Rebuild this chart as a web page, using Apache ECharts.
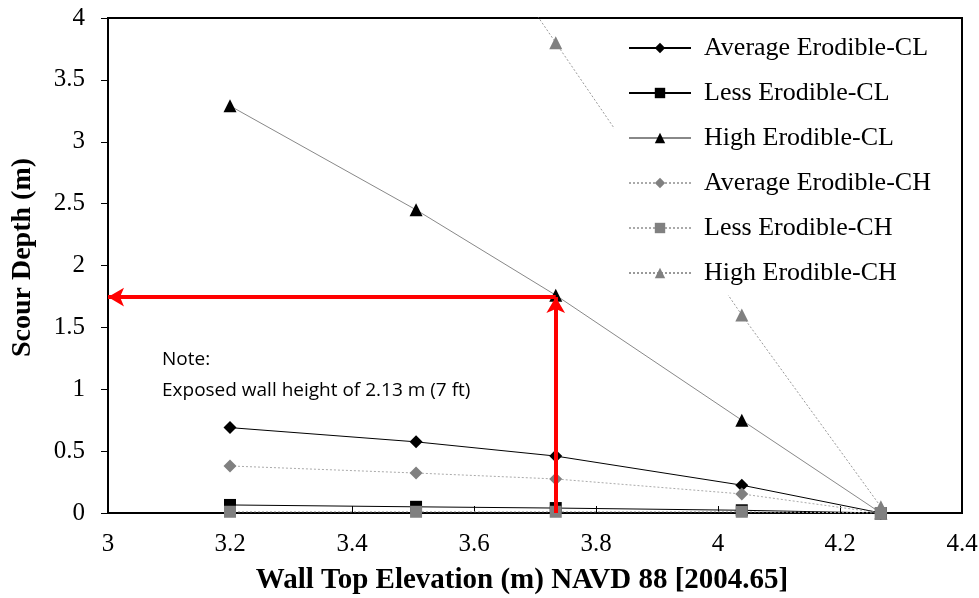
<!DOCTYPE html>
<html>
<head>
<meta charset="utf-8">
<script src="https://cdn.jsdelivr.net/npm/echarts@6/dist/echarts.min.js"></script>
<style>html,body{margin:0;padding:0;background:#fff}#c{width:979px;height:598px}</style>
</head>
<body>
<div id="c"></div>
<script>
// Wall top elevation (m)
const elevations = [3.2, 3.505, 3.734, 4.039, 4.267];
// Scour depth (m)
const avgCL  = [0.69, 0.575, 0.46, 0.225, 0.0];
const lessCL = [0.065, 0.05, 0.04, 0.022, 0.0];
const highCL = [3.29, 2.45, 1.76, 0.75, 0.0];
const avgCH  = [0.38, 0.323, 0.275, 0.154, 0.0];
const lessCH = [0.01, 0.01, 0.01, 0.01, 0.0];
const highCH = [7.6, 5.45, 3.8, 1.6, 0.05];
const seriesNames = ['Average Erodible-CL','Less Erodible-CL','High Erodible-CL','Average Erodible-CH','Less Erodible-CH','High Erodible-CH'];
const xTicks = {min: 3, max: 4.4, step: 0.2};
const yTicks = {min: 0, max: 4, step: 0.5};
// Design point: 7 ft exposed wall
const designX = 3.734, designY = 1.745;
const noteLines = ['Note:', 'Exposed wall height of 2.13 m (7 ft)'];

const pair = arr => elevations.map((x, i) => [x, arr[i]]);
const serif = '"Liberation Serif", "Times New Roman", serif';

function mk(name, data, symbol, size, color, lineColor, lineType) {
  return {
    name, type: 'line', data: pair(data), symbol, symbolSize: size,
    itemStyle: {color},
    lineStyle: {color: lineColor, width: 1, type: lineType},
    clip: true, z: 3
  };
}

const chart = echarts.init(document.getElementById('c'), null, {renderer: 'canvas'});
chart.setOption({
  animation: false,
  backgroundColor: '#fff',
  grid: {left: 108, right: 17, top: 18, bottom: 85, show: true, borderColor: '#000', borderWidth: 2,
         backgroundColor: 'transparent', outerBoundsMode: 'none', containLabel: false},
  xAxis: {
    type: 'value', min: xTicks.min, max: xTicks.max, interval: xTicks.step,
    name: 'Wall Top Elevation (m) NAVD 88 [2004.65]', nameLocation: 'middle', nameGap: 53,
    nameTextStyle: {fontFamily: serif, fontSize: 29, fontWeight: 'bold', color: '#000', padding: [0, 26, 0, 0]},
    axisLine: {show: true, lineStyle: {color: '#000', width: 2}},
    axisTick: {show: true, inside: true, length: 7, lineStyle: {color: '#000', width: 1}},
    axisLabel: {fontFamily: serif, fontSize: 25, color: '#000', margin: 19, formatter: v => String(+v.toFixed(1))},
    splitLine: {show: false}
  },
  yAxis: {
    type: 'value', min: yTicks.min, max: yTicks.max, interval: yTicks.step,
    name: 'Scour Depth (m)', nameLocation: 'middle', nameGap: 71,
    nameTextStyle: {fontFamily: serif, fontSize: 28, fontWeight: 'bold', color: '#000', padding: [0, 0, 0, 16]},
    axisLine: {show: true, lineStyle: {color: '#000', width: 2}},
    axisTick: {show: true, inside: false, length: 7, lineStyle: {color: '#000', width: 1}},
    axisLabel: {fontFamily: serif, fontSize: 25, color: '#000', margin: 23, formatter: v => String(+v.toFixed(1))},
    splitLine: {show: false}
  },
  legend: {
    data: seriesNames, orient: 'vertical', left: 614, top: 19,
    backgroundColor: '#fff', padding: [15, 20, 8, 14], itemGap: 17,
    itemWidth: 62, itemHeight: 13,
    textStyle: {fontFamily: serif, fontSize: 26, color: '#000', lineHeight: 28, padding: [0, 0, 0, 8]},
    z: 5
  },
  series: [
    mk(seriesNames[0], avgCL, 'diamond', 13, '#000', '#000', 'solid'),
    mk(seriesNames[1], lessCL, 'rect', 12, '#000', '#000', 'solid'),
    mk(seriesNames[2], highCL, 'triangle', 13, '#000', '#888', 'solid'),
    mk(seriesNames[3], avgCH, 'diamond', 13, '#808080', '#aaa', [2, 2]),
    mk(seriesNames[4], lessCH, 'rect', 12, '#808080', '#aaa', [2, 2]),
    mk(seriesNames[5], highCH, 'triangle', 13, '#808080', '#999', [2, 2]),
    {
      type: 'line', data: [], z: 6,
      markLine: {
        silent: true, symbol: ['none', 'arrow'], symbolSize: [14, 16],
        label: {show: false},
        lineStyle: {color: '#ff0000', width: 4, type: 'solid'},
        data: [
          [{coord: [designX, 0]}, {coord: [designX, designY]}],
          [{coord: [designX, designY]}, {coord: [xTicks.min, designY]}]
        ]
      }
    }
  ],
  graphic: [{
    type: 'text', left: 162, top: 344, z: 10,
    style: {text: noteLines.join('\n'), font: '19px "Open Sans", sans-serif', fill: '#000', lineHeight: 31}
  }]
});
</script>
</body>
</html>
